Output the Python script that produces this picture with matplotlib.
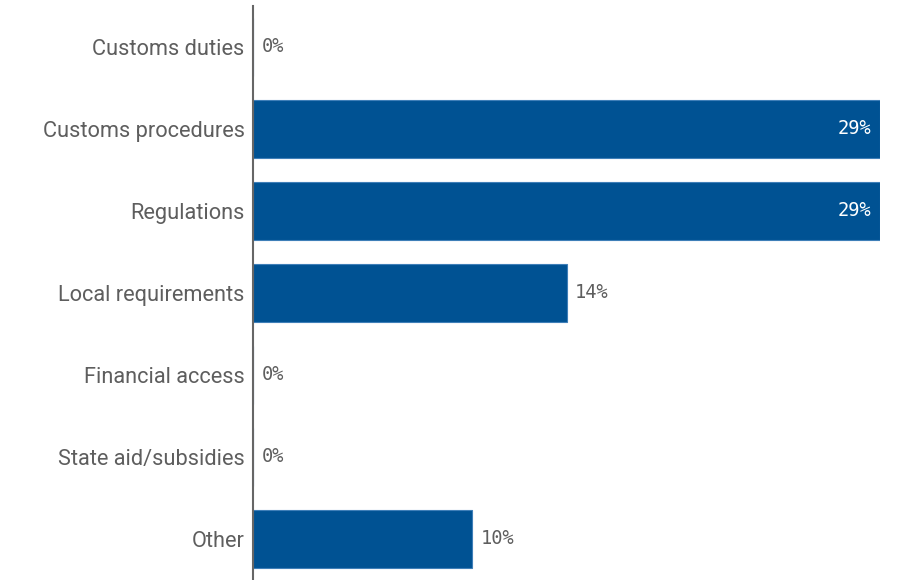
import matplotlib.pyplot as plt

# share of respondents per barrier type
categories = ["Customs duties", "Customs procedures", "Regulations",
              "Local requirements", "Financial access", "State aid/subsidies", "Other"]
values = [0.0, 28.6, 28.6, 14.3, 0.0, 0.0, 10.0]

bar_color = "#005293"
edge_color = "#3f7fb8"
text_color = "#5e5e5e"

fig = plt.figure(figsize=(9.05, 5.8), dpi=100)
ax = fig.add_axes([253 / 905, 0, (880 - 253) / 905, 574 / 580])

ypos = list(range(len(categories)))
ax.barh(ypos, values, height=0.7, color=bar_color, edgecolor=edge_color, linewidth=0.8)

ax.set_xlim(0, max(values))
ax.set_ylim(len(categories) - 0.5, -0.5)
ax.set_yticks(ypos)
ax.set_yticklabels(categories, fontsize=15.7, color=text_color, family=["Roboto", "DejaVu Sans"])
ax.tick_params(axis="y", length=0, pad=6)
ax.set_xticks([])

for s in ["top", "right", "bottom"]:
    ax.spines[s].set_visible(False)
ax.spines["left"].set_color("#666666")
ax.spines["left"].set_linewidth(1.5)

# value labels: inside long bars, outside short ones
for y, v in zip(ypos, values):
    label = f"{v:.0f}%"
    if v > 20:
        ax.annotate(label, (v, y), xytext=(-6, 0), textcoords="offset points",
                    ha="right", va="center", color="white", fontsize=13.5,
                    family="DejaVu Sans Mono")
    else:
        ax.annotate(label, (v, y), xytext=(6, 0), textcoords="offset points",
                    ha="left", va="center", color=text_color, fontsize=13.5,
                    family="DejaVu Sans Mono")

fig.savefig("out.png", dpi=100)
